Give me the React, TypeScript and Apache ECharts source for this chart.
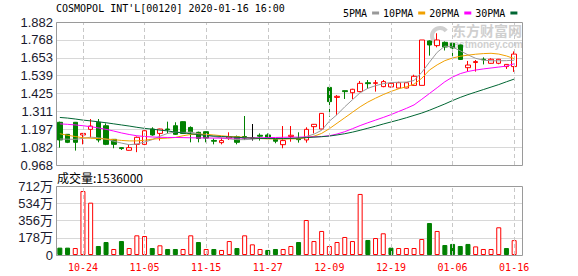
import React, { useEffect, useRef } from 'react';
import * as echarts from 'echarts';

const titleText = "COSMOPOL INT'L[00120] 2020-01-16 16:00";
const maNames = ['5PMA', '10PMA', '20PMA', '30PMA'];
const maColors = ['#999999', '#f0a000', '#ff00ff', '#006633'];

const dates = ['10-21','10-22','10-23','10-24','10-25','10-28','10-29','10-30','10-31','11-01',
  '11-04','11-05','11-06','11-07','11-08','11-11','11-12','11-13','11-14','11-15',
  '11-18','11-19','11-20','11-21','11-22','11-25','11-26','11-27','11-28','11-29',
  '12-02','12-03','12-04','12-05','12-06','12-09','12-10','12-11','12-12','12-13',
  '12-16','12-17','12-18','12-19','12-20','12-23','12-27','12-30','12-31','01-02',
  '01-03','01-06','01-07','01-08','01-09','01-10','01-13','01-14','01-15','01-16'];
const labelDates = ['10-24','11-05','11-15','11-27','12-09','12-19','01-06','01-16'];
const priceTicks = ['0.968','1.082','1.197','1.311','1.425','1.539','1.653','1.768','1.882'];
const volTicks = ['0','178万','356万','534万','712万'];

const openP = [1.241,1.164,1.241,1.160,1.196,1.241,1.219,1.132,1.079,1.062,
  1.100,1.100,1.198,1.170,1.198,1.219,1.245,1.208,1.177,1.181,
  1.125,1.111,1.140,1.149,1.150,1.140,1.158,1.160,1.132,1.098,
  1.150,1.139,1.128,1.213,1.198,1.464,1.400,1.443,1.430,1.437,
  1.494,1.490,1.469,1.467,1.460,1.460,1.477,1.477,1.761,1.731,
  1.752,1.746,1.735,1.590,1.623,1.644,1.618,1.618,1.597,1.597];
const closeP = [1.128,1.113,1.113,1.170,1.217,1.128,1.100,1.100,1.073,1.079,
  1.145,1.187,1.160,1.198,1.194,1.164,1.170,1.180,1.138,1.140,
  1.120,1.124,1.148,1.113,1.140,1.140,1.152,1.139,1.120,1.124,
  1.158,1.130,1.196,1.228,1.298,1.373,1.407,1.437,1.452,1.490,
  1.488,1.494,1.501,1.490,1.494,1.494,1.535,1.767,1.735,1.767,
  1.722,1.716,1.643,1.607,1.629,1.641,1.644,1.644,1.611,1.677];
const lowP = [1.079,1.108,1.060,1.100,1.143,1.113,1.095,1.075,1.064,1.060,
  1.050,1.095,1.155,1.124,1.170,1.160,1.168,1.113,1.113,1.113,
  1.100,1.100,1.128,1.100,1.128,1.124,1.124,1.135,1.107,1.075,
  1.117,1.111,1.111,1.170,1.196,1.277,1.287,1.390,1.390,1.433,
  1.454,1.437,1.465,1.463,1.458,1.458,1.475,1.477,1.667,1.720,
  1.700,1.665,1.639,1.567,1.565,1.611,1.616,1.612,1.582,1.563];
const highP = [1.245,1.166,1.243,1.172,1.262,1.262,1.234,1.134,1.081,1.096,
  1.150,1.190,1.209,1.200,1.245,1.241,1.247,1.215,1.181,1.183,
  1.138,1.143,1.177,1.156,1.281,1.230,1.170,1.170,1.135,1.217,
  1.217,1.177,1.209,1.230,1.300,1.470,1.415,1.443,1.455,1.505,
  1.511,1.511,1.511,1.494,1.500,1.496,1.545,1.767,1.765,1.810,
  1.758,1.750,1.737,1.633,1.639,1.656,1.650,1.646,1.613,1.694];

const ma5 = [1.134,1.133,1.132,1.138,1.146,1.142,1.133,1.120,1.108,1.098,
  1.102,1.115,1.130,1.152,1.170,1.178,1.176,1.178,1.168,1.158,
  1.150,1.140,1.135,1.130,1.130,1.133,1.138,1.137,1.137,1.135,
  1.138,1.136,1.150,1.165,1.190,1.248,1.290,1.340,1.385,1.430,
  1.458,1.475,1.488,1.495,1.497,1.498,1.508,1.560,1.625,1.688,
  1.728,1.722,1.698,1.672,1.650,1.638,1.634,1.634,1.635,1.638];
const ma10 = [1.168,1.158,1.150,1.142,1.139,1.137,1.134,1.130,1.125,1.122,
  1.122,1.126,1.133,1.137,1.140,1.144,1.155,1.163,1.165,1.164,
  1.160,1.155,1.150,1.148,1.145,1.140,1.137,1.135,1.135,1.134,
  1.135,1.136,1.143,1.152,1.170,1.200,1.235,1.270,1.305,1.340,
  1.370,1.395,1.418,1.438,1.455,1.468,1.485,1.522,1.575,1.608,
  1.635,1.652,1.663,1.670,1.676,1.680,1.682,1.677,1.665,1.648];
const ma20 = [1.231,1.228,1.224,1.219,1.213,1.205,1.196,1.185,1.173,1.163,
  1.155,1.150,1.147,1.145,1.144,1.144,1.143,1.142,1.141,1.141,
  1.140,1.140,1.140,1.140,1.140,1.141,1.142,1.143,1.144,1.145,
  1.146,1.146,1.147,1.148,1.150,1.155,1.166,1.181,1.200,1.220,
  1.238,1.255,1.272,1.290,1.310,1.330,1.352,1.388,1.425,1.462,
  1.500,1.530,1.552,1.566,1.575,1.582,1.588,1.594,1.600,1.615];
const ma30 = [1.272,1.268,1.262,1.255,1.250,1.244,1.238,1.231,1.224,1.217,
  1.209,1.202,1.197,1.191,1.186,1.178,1.173,1.168,1.162,1.157,
  1.153,1.150,1.148,1.145,1.142,1.140,1.138,1.137,1.137,1.137,
  1.138,1.140,1.143,1.146,1.149,1.153,1.160,1.168,1.178,1.190,
  1.203,1.216,1.230,1.243,1.256,1.270,1.285,1.300,1.318,1.338,
  1.358,1.380,1.400,1.418,1.434,1.450,1.466,1.482,1.500,1.517];

const volumes = [760000,760000,720000,6600000,5400000,930000,1340000,620000,1440000,720000,
  2030000,1960000,720000,1000000,620000,620000,620000,2030000,1340000,620000,
  620000,520000,1440000,720000,2030000,1100000,620000,520000,620000,620000,
  930000,1340000,3610000,1440000,2480000,930000,1340000,1860000,1440000,6300000,
  1550000,1750000,2240000,760000,720000,720000,720000,1650000,3300000,2480000,
  1030000,1140000,930000,1140000,890000,620000,620000,2860000,720000,1536000];
const volUp = [0,0,1,1,1,0,0,1,0,1, 1,1,0,1,0,0,1,1,0,1, 0,1,1,0,1,1,1,0,0,1,
  1,0,1,1,1,1,1,1,1,1, 0,1,1,0,1,1,1,1,0,1, 0,0,0,0,1,1,1,1,0,1];

const UP = '#ff0000';
const DOWN = '#008000';

export default function App() {
  const ref = useRef<HTMLDivElement>(null);
  useEffect(() => {
    if (!ref.current) return;
    const chart = echarts.init(ref.current, null, { renderer: 'svg' });
    const ohlc = dates.map((_, i) => [openP[i], closeP[i], lowP[i], highP[i]]);
    const volData = volumes.map((v, i) => ({
      value: v,
      itemStyle: volUp[i]
        ? { color: '#ffffff', borderColor: UP, borderWidth: 1 }
        : { color: DOWN, borderColor: DOWN, borderWidth: 1 },
    }));
    const vlines = {
      silent: true,
      symbol: ['none', 'none'],
      label: { show: false },
      lineStyle: { color: '#c8c8c8', type: [4, 3], width: 1 },
      emphasis: { disabled: true },
      data: labelDates.map((d) => ({ xAxis: d })),
    };
    const maSeries = maNames.map((name, k) => ({
      name,
      type: 'line',
      xAxisIndex: 1,
      yAxisIndex: 1,
      data: [ma5, ma10, ma20, ma30][k],
      showSymbol: false,
      symbol: 'none',
      itemStyle: { color: maColors[k] },
      lineStyle: { color: maColors[k], width: 1 },
      z: 3,
    }));
    const frameStyle = { fill: 'none', stroke: '#9a9a9a', lineWidth: 1 };
    chart.setOption({
      animation: false,
      backgroundColor: '#ffffff',
      legend: {
        left: 338,
        top: 3,
        align: 'right',
        icon: 'rect',
        itemWidth: 7,
        itemHeight: 3,
        itemGap: 4,
        selectedMode: false,
        textStyle: { fontFamily: 'DejaVu Sans Mono', fontSize: 10, color: '#000' },
        data: maNames,
      },
      grid: [
        { left: 56, top: 22, width: 466, height: 143 },
        { left: 56, top: 22, width: 462, height: 143 },
        { left: 56, top: 186, width: 466, height: 69 },
        { left: 56, top: 186, width: 462, height: 69 },
      ],
      xAxis: [
        { type: 'value', gridIndex: 0, min: 0, max: 1, show: false },
        {
          type: 'category', gridIndex: 1, data: dates, boundaryGap: true,
          axisLine: { show: false }, axisTick: { show: false }, axisLabel: { show: false }, splitLine: { show: false },
        },
        { type: 'value', gridIndex: 2, min: 0, max: 1, show: false },
        {
          type: 'category', gridIndex: 3, data: dates, boundaryGap: true,
          axisLine: { show: false }, axisTick: { show: false }, splitLine: { show: false },
          axisLabel: {
            interval: (_i: number, v: string) => labelDates.includes(v),
            color: '#ff0000', fontFamily: 'DejaVu Sans Mono', fontSize: 10, margin: 7,
          },
        },
      ],
      yAxis: [
        {
          type: 'value', gridIndex: 0, min: 0, max: 8, interval: 1,
          axisLine: { show: false }, axisTick: { show: false },
          axisLabel: {
            formatter: (v: number) => priceTicks[Math.round(v)],
            margin: 3, fontSize: 13, fontFamily: 'Liberation Sans', color: '#1a1a2e',
          },
          splitLine: { lineStyle: { color: '#d8d8d8', width: 1 } },
        },
        { type: 'value', gridIndex: 1, min: 0.968, max: 1.882, show: false, splitLine: { show: false } },
        {
          type: 'value', gridIndex: 2, min: 0, max: 4, interval: 1,
          axisLine: { show: false }, axisTick: { show: false },
          axisLabel: {
            formatter: (v: number) => volTicks[Math.round(v)],
            margin: 3, fontSize: 13, fontFamily: 'Liberation Sans, Noto Sans CJK SC', color: '#1a1a2e',
          },
          splitLine: { lineStyle: { color: '#d8d8d8', width: 1 } },
        },
        { type: 'value', gridIndex: 3, min: 0, max: 7120000, show: false, splitLine: { show: false } },
      ],
      series: [
        {
          name: 'K',
          type: 'candlestick',
          xAxisIndex: 1,
          yAxisIndex: 1,
          data: ohlc,
          barWidth: 5,
          itemStyle: {
            color: '#ffffff', color0: DOWN, borderColor: UP, borderColor0: DOWN,
            borderColorDoji: '#000000', borderWidth: 1,
          },
          markLine: vlines,
          z: 2,
        },
        ...maSeries,
        {
          name: 'VOL',
          type: 'bar',
          xAxisIndex: 3,
          yAxisIndex: 3,
          data: volData,
          barWidth: 5,
          markLine: vlines,
        },
      ],
      graphic: [
        {
          type: 'text', left: 56, top: 3, z: 10,
          style: { text: titleText, font: '10px "DejaVu Sans Mono"', fill: '#000' },
        },
        {
          type: 'text', left: 57, top: 171, z: 10,
          style: { text: '成交量:' + volumes[volumes.length - 1], font: '12px "Noto Sans CJK SC"', fill: '#000' },
        },
        {
          type: 'text', left: 452, top: 23, z: 1,
          style: { text: '东方财富网', font: 'bold 14px "Noto Sans CJK SC"', fill: '#cfcfcf' },
        },
        {
          type: 'text', left: 448, top: 39, z: 1,
          style: { text: 'eastmoney.com', font: 'bold 10px "Liberation Sans"', fill: '#cfcfcf' },
        },
        {
          type: 'arc', z: 1,
          shape: { cx: 440, cy: 36, r: 8, startAngle: 2.2, endAngle: 5.6 },
          style: { stroke: '#d0d0d0', lineWidth: 4, fill: 'none' },
        },
        {
          type: 'rect', z: 20, silent: true,
          shape: { x: 56.5, y: 22.5, width: 466, height: 143 },
          style: frameStyle,
        },
        {
          type: 'rect', z: 20, silent: true,
          shape: { x: 56.5, y: 186.5, width: 466, height: 69 },
          style: frameStyle,
        },
      ],
    });
    return () => chart.dispose();
  }, []);
  return (
    <div
      ref={ref}
      style={{ position: 'fixed', left: 0, top: 0, width: 578, height: 276, background: '#fff' }}
    />
  );
}
